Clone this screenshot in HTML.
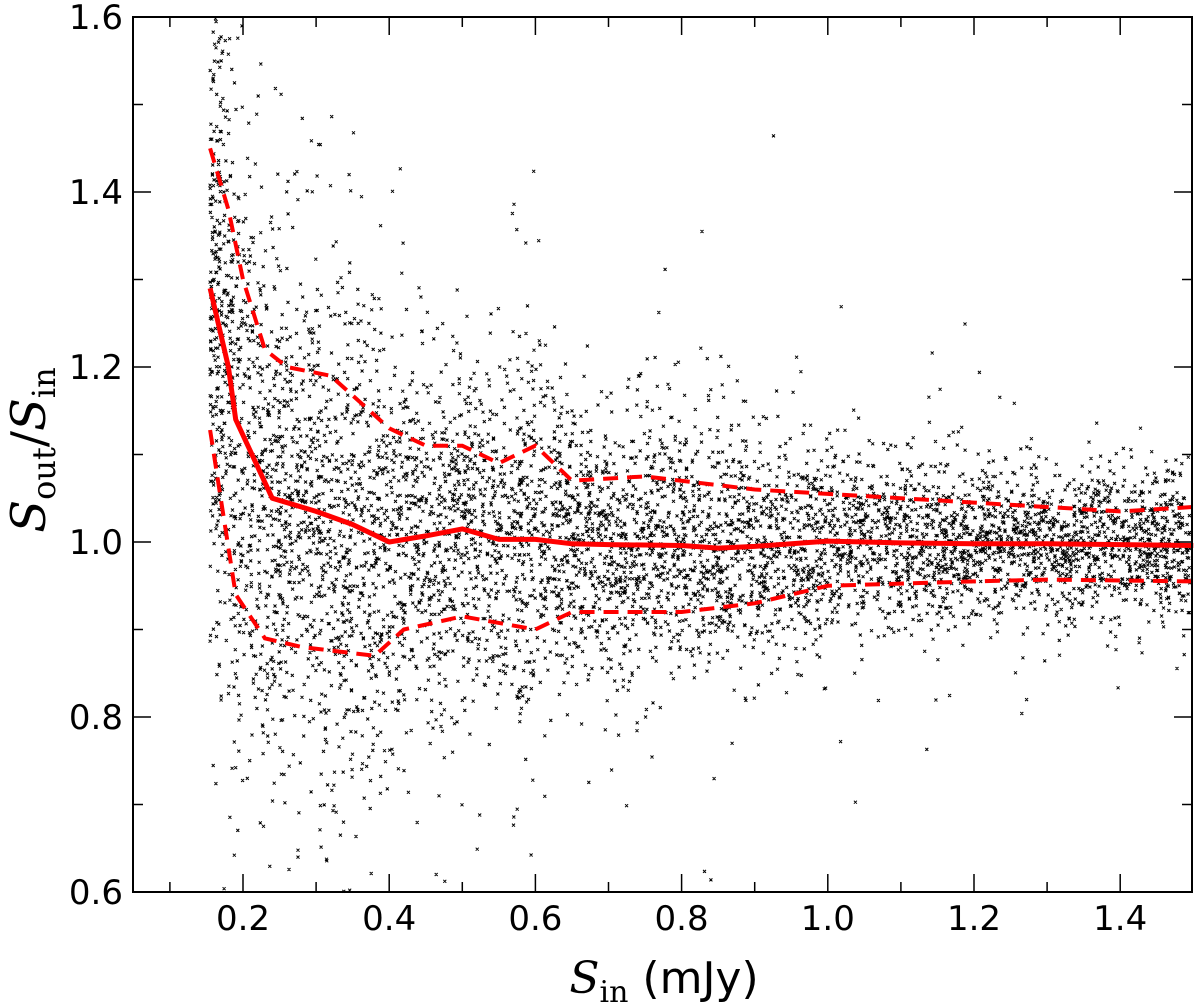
<!DOCTYPE html>
<html><head><meta charset="utf-8"><style>
body{margin:0;background:#fff}
svg{display:block}
text{font-family:"DejaVu Sans","Liberation Sans",sans-serif}
</style></head><body>
<svg id="chart" width="1200" height="1007" viewBox="0 0 1200 1007">
<g id="pts"></g>
<g id="lines"></g>
<g id="axes"></g>
<text transform="translate(45,450) rotate(-90)" text-anchor="middle" font-size="48" style="font-family:'DejaVu Serif','Liberation Serif',serif"><tspan font-style="italic">S</tspan><tspan font-size="32" dy="10">out</tspan><tspan dy="-10">/</tspan><tspan font-style="italic">S</tspan><tspan font-size="32" dy="10">in</tspan></text>
<text x="664" y="993" text-anchor="middle" font-size="44"><tspan style="font-family:'DejaVu Serif','Liberation Serif',serif;font-style:italic">S</tspan><tspan font-size="30" dy="9" style="font-family:'DejaVu Serif','Liberation Serif',serif">in</tspan><tspan dy="-9"> (mJy)</tspan></text>
</svg>
<script>
const medianX=[0.155,0.18,0.19,0.24,0.3,0.35,0.4,0.45,0.5,0.55,0.6,0.65,0.7,0.8,0.85,0.9,1.0,1.1,1.2,1.3,1.4,1.5];
const medianY=[1.29,1.2,1.14,1.05,1.035,1.02,1.0,1.007,1.015,1.003,1.003,0.998,0.997,0.996,0.993,0.995,1.001,0.999,0.998,0.998,0.997,0.996];
const upperX=[0.155,0.18,0.2,0.23,0.26,0.32,0.4,0.45,0.5,0.55,0.6,0.65,0.75,0.9,1.0,1.1,1.2,1.4,1.5];
const upperY=[1.45,1.38,1.3,1.22,1.2,1.19,1.13,1.11,1.11,1.09,1.11,1.07,1.075,1.06,1.055,1.05,1.045,1.035,1.04];
const lowerX=[0.155,0.19,0.23,0.28,0.38,0.42,0.5,0.6,0.65,0.8,0.9,1.0,1.2,1.3,1.5];
const lowerY=[1.128,0.94,0.89,0.88,0.87,0.9,0.915,0.9,0.92,0.92,0.93,0.95,0.955,0.957,0.955];
const xTicks=[0.2,0.4,0.6,0.8,1.0,1.2,1.4];
const yTicks=[0.6,0.8,1.0,1.2,1.4,1.6];
const L=133,R=1192,T=17,B=892;
const sx=v=>243+(v-0.2)*731;
const sy=v=>892-(v-0.6)*875;
const NS='http://www.w3.org/2000/svg';
function mk(tag,attrs,parent){const e=document.createElementNS(NS,tag);for(const k in attrs)e.setAttribute(k,attrs[k]);parent.appendChild(e);return e;}
function interp(xs,ys,x){if(x<=xs[0])return ys[0];for(let i=1;i<xs.length;i++){if(x<=xs[i]){const t=(x-xs[i-1])/(xs[i]-xs[i-1]);return ys[i-1]+t*(ys[i]-ys[i-1]);}}return ys[ys.length-1];}
// scatter cloud texture (deterministic)
let seed=12345;function rnd(){seed=(seed*1103515245+12345)%2147483648;return seed/2147483648;}
function gauss(){return Math.sqrt(-2*Math.log(rnd()+1e-9))*Math.cos(2*Math.PI*rnd());}
const pts=document.getElementById('pts');
let d='';
for(let i=0;i<11000;i++){
 const x=0.155+1.345*Math.pow(rnd(),1.25);
 const m=interp(medianX,medianY,x),u=interp(upperX,upperY,x),l=interp(lowerX,lowerY,x);
 let y=m+gauss()*(u-l)/2*(rnd()<0.07?2.0:1);
 if(y<0.6||y>1.6)continue;
 const px=sx(x),py=sy(y);if(px<L+2||px>R-2)continue;
 d+=`M${(px-1.5).toFixed(1)} ${(py-1.5).toFixed(1)}l3 3M${(px+1.5).toFixed(1)} ${(py-1.5).toFixed(1)}l-3 3`;
}
const sc=mk('path',{d:d,fill:'none',stroke:'#000','stroke-width':1},pts);


const lines=document.getElementById('lines');
function poly(xs,ys){return xs.map((x,i)=>`${sx(x).toFixed(1)},${sy(ys[i]).toFixed(1)}`).join(' ');}
const ml=mk('polyline',{points:poly(medianX,medianY),fill:'none',stroke:'#f00','stroke-width':5,'stroke-linejoin':'round'},lines);


const ul=mk('polyline',{points:poly(upperX,upperY),fill:'none',stroke:'#f00','stroke-width':4,'stroke-dasharray':'15 9'},lines);


const ll=mk('polyline',{points:poly(lowerX,lowerY),fill:'none',stroke:'#f00','stroke-width':4,'stroke-dasharray':'15 9'},lines);


const ax=document.getElementById('axes');
const fr=mk('rect',{x:L,y:T,width:R-L,height:B-T,fill:'none',stroke:'#000','stroke-width':2},ax);


for(let v=0.1;v<1.5;v+=0.1){const x=sx(v);if(x<L)continue;const maj=Math.abs(v*5-Math.round(v*5))<0.01;const len=maj?18:10;
 mk('line',{x1:x,x2:x,y1:B,y2:B-len,stroke:'#000','stroke-width':1.5},ax);mk('line',{x1:x,x2:x,y1:T,y2:T+len,stroke:'#000','stroke-width':1.5},ax);}
for(let v=0.7;v<1.6;v+=0.1){const y=sy(v);const maj=Math.abs(v*5-Math.round(v*5))<0.01;const len=maj?18:10;
 mk('line',{x1:L,x2:L+len,y1:y,y2:y,stroke:'#000','stroke-width':1.5},ax);mk('line',{x1:R,x2:R-len,y1:y,y2:y,stroke:'#000','stroke-width':1.5},ax);}
xTicks.forEach(v=>{const t=mk('text',{x:sx(v),y:930,'text-anchor':'middle','font-size':34},ax);t.textContent=v.toFixed(1);
 
 });
yTicks.forEach(v=>{const t=mk('text',{x:123,y:sy(v)+12,'text-anchor':'end','font-size':34},ax);t.textContent=v.toFixed(1);
 
 });
</script>
</body></html>
